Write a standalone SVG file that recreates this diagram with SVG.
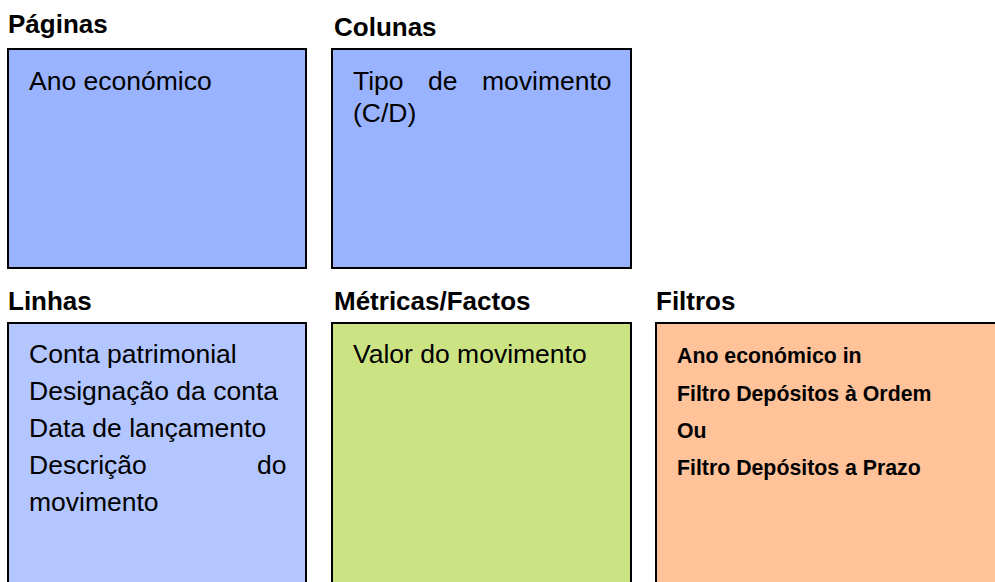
<svg xmlns="http://www.w3.org/2000/svg" width="995" height="582" viewBox="0 0 995 582">
<style>
.box{stroke:#000;stroke-width:2}
.h{font-family:"Liberation Sans",Arial,sans-serif;font-weight:bold;font-size:26px;fill:#000}
.t{font-family:"Liberation Sans",Arial,sans-serif;font-size:26.5px;fill:#000}
.f{font-family:"Liberation Sans",Arial,sans-serif;font-weight:bold;font-size:21.3px;fill:#000}
</style>
<rect width="995" height="582" fill="#fff"/>
<g id="paginas">
<text class="h" x="8" y="33">Páginas</text>
<rect class="box" x="8" y="49" width="298" height="219" fill="#99B3FF"/>
<text class="t" x="29" y="90">Ano económico</text>
</g>
<g id="colunas">
<text class="h" x="334" y="36">Colunas</text>
<rect class="box" x="332" y="49" width="299" height="219" fill="#99B3FF"/>
<text class="t" x="353" y="90">Tipo</text>
<text class="t" x="428" y="90">de</text>
<text class="t" x="482" y="90">movimento</text>
<text class="t" x="353" y="122">(C/D)</text>
</g>
<g id="linhas">
<text class="h" x="8" y="310">Linhas</text>
<rect class="box" x="8" y="323" width="298" height="280" fill="#B3C6FF"/>
<text class="t" x="29" y="363">Conta patrimonial</text>
<text class="t" x="29" y="400">Designação da conta</text>
<text class="t" x="29" y="437">Data de lançamento</text>
<text class="t" x="29" y="474">Descrição</text>
<text class="t" x="257" y="474">do</text>
<text class="t" x="29" y="511">movimento</text>
</g>
<g id="metricas">
<text class="h" x="334" y="310">Métricas/Factos</text>
<rect class="box" x="332" y="323" width="299" height="280" fill="#CCE384"/>
<text class="t" x="353" y="363">Valor do movimento</text>
</g>
<g id="filtros">
<text class="h" x="656" y="310">Filtros</text>
<rect class="box" x="656" y="323" width="360" height="280" fill="#FFC299"/>
<text class="f" x="677" y="363">Ano económico in</text>
<text class="f" x="677" y="401">Filtro Depósitos à Ordem</text>
<text class="f" x="677" y="438">Ou</text>
<text class="f" x="677" y="475">Filtro Depósitos a Prazo</text>
</g>
<g id="connectors"></g>
</svg>
